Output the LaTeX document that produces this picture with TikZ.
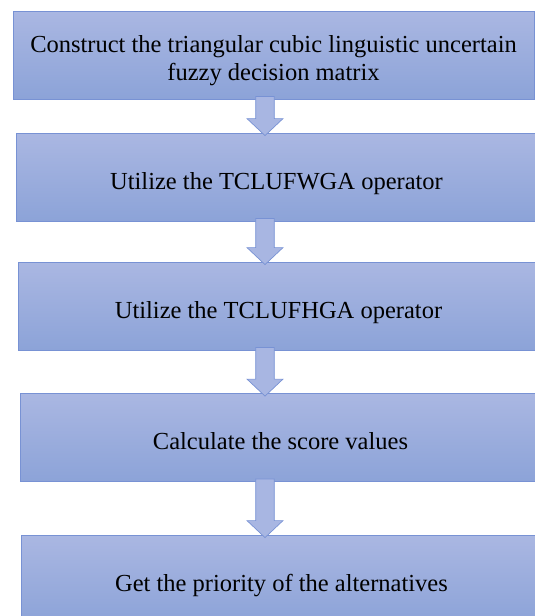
\documentclass[tikz,border=0pt]{standalone}
\usepackage{fontspec}
\setmainfont{Liberation Serif}
\definecolor{boxtop}{RGB}{170,183,226}
\definecolor{boxbot}{RGB}{140,163,216}
\definecolor{boxline}{RGB}{120,146,212}
\definecolor{arrfill}{RGB}{168,182,226}
\usetikzlibrary{calc}

% block arrow from the bottom of one box to the top of the next
\newcommand{\downarr}[2]{%
  \draw[blk] ($(ax |- #1.south)+(-9.3,3)$) -- ($(ax |- #1.south)+(9.3,3)$)
    -- ($(ax |- #2.north)+(9.3,14)$) -- ($(ax |- #2.north)+(18,14)$)
    -- ($(ax |- #2.north)+(0,-3)$) -- ($(ax |- #2.north)+(-18,14)$)
    -- ($(ax |- #2.north)+(-9.3,14)$) -- cycle;}

\begin{document}
\begin{tikzpicture}[x=1pt,y=1pt,
  stepbox/.style={draw=boxline,line width=0.8pt,top color=boxtop,bottom color=boxbot,
    minimum width=521pt,minimum height=88pt,inner sep=0pt,align=center,
    text height=30pt,text depth=6pt,font=\fontsize{24.5}{28}\selectfont},
  blk/.style={draw=boxline,line width=0.7pt,fill=arrfill,line join=miter}
]
  \useasboundingbox (0,0) rectangle (535,-616);
  \coordinate (ax) at (265,0);

  % Steps
  \node[stepbox,text height=56pt] (build) at (273.5,-55) {Construct the triangular cubic linguistic uncertain\\fuzzy decision matrix};
  \node[stepbox] (wga) at (276.5,-177) {Utilize the TCLUFWGA operator};
  \node[stepbox] (hga) at (278.5,-306) {Utilize the TCLUFHGA operator};
  \node[stepbox] (score) at (280.5,-437.5) {Calculate the score values};
  \node[stepbox] (rank) at (281.5,-579) {Get the priority of the alternatives};

  \downarr{build}{wga}
  \downarr{wga}{hga}
  \downarr{hga}{score}
  \downarr{score}{rank}
\end{tikzpicture}
\end{document}
